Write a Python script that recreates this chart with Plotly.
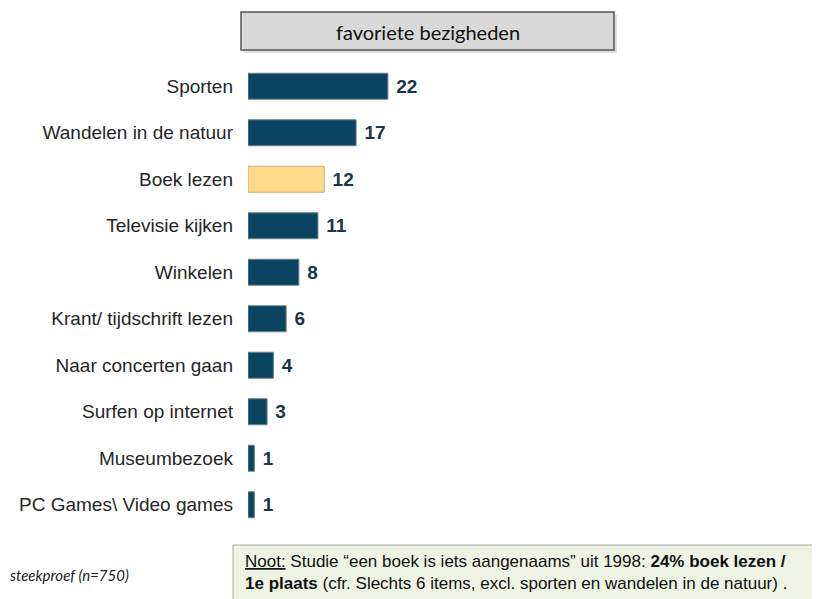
import plotly.graph_objects as go

categorieen = ["Sporten", "Wandelen in de natuur", "Boek lezen", "Televisie kijken",
               "Winkelen", "Krant/ tijdschrift lezen", "Naar concerten gaan",
               "Surfen op internet", "Museumbezoek", "PC Games\\ Video games"]
waarden = [22, 17, 12, 11, 8, 6, 4, 3, 1, 1]
titel = "favoriete bezigheden"
steekproef = "steekproef (n=750)"
noot_1 = "<u>Noot:</u> Studie “een boek is iets aangenaams” uit 1998: <b>24% boek lezen /</b>"
noot_2 = "<b>1e plaats</b> (cfr. Slechts 6 items, excl. sporten en wandelen in de natuur) ."

# pagina heeft 8px body-marge
O = 8
W, H = 820 - O, 599 - O
L, R, T, B = 240, 32, 55, 71
pw, ph = W - L - R, H - T - B

def px_x(x):
    return (x - O - L) / pw

def px_y(y):
    return (H - B - (y - O)) / ph

kleuren = ["#fdd98a" if c == "Boek lezen" else "#0b4461" for c in categorieen]
randen = ["#c9b37c" if c == "Boek lezen" else "#6f8794" for c in categorieen]

fig = go.Figure(go.Bar(
    x=waarden, y=categorieen, orientation="h",
    marker=dict(color=kleuren, line=dict(color=randen, width=1)),
    width=0.56,
    text=waarden, textposition="outside",
    textfont=dict(family="Liberation Sans, Arial", size=19, color="#17374c"),
    texttemplate="\u00a0<b>%{x}</b>", cliponaxis=False,
))

fig.update_layout(
    width=W, height=H, margin=dict(l=L, r=R, t=T, b=B),
    plot_bgcolor="white", paper_bgcolor="white", showlegend=False,
    xaxis=dict(range=[0, pw / 6.36], visible=False),
    yaxis=dict(autorange="reversed", showline=False, ticks="", showgrid=False,
               ticklabelstandoff=14,
               tickfont=dict(family="Liberation Sans, Arial", size=19, color="#262626")),
    font=dict(family="Liberation Sans, Arial"),
)

# titelkader met lichte schaduw
fig.add_shape(type="rect", xref="paper", yref="paper",
              x0=px_x(243), x1=px_x(617), y0=px_y(53), y1=px_y(15),
              fillcolor="#c8c8c8", line=dict(width=0), opacity=0.6)
fig.add_shape(type="rect", xref="paper", yref="paper",
              x0=px_x(241), x1=px_x(614), y0=px_y(50), y1=px_y(12),
              fillcolor="#d9d9d9", line=dict(color="#555555", width=1.5))
fig.add_annotation(xref="paper", yref="paper", x=px_x(428), y=px_y(32),
                   xanchor="center", yanchor="middle", text=titel, showarrow=False,
                   font=dict(family="Lato, Open Sans", size=20, color="#111111"))

# noot kader
fig.add_shape(type="rect", xref="paper", yref="paper",
              x0=px_x(233), x1=px_x(825), y0=px_y(605), y1=px_y(545),
              fillcolor="#eef3e3", line=dict(color="#aaaaaa", width=1))
noot_font = dict(family="Liberation Sans Narrow, Arial Narrow, Liberation Sans",
                 size=17, color="#111111")
fig.add_annotation(xref="paper", yref="paper", x=px_x(243), y=px_y(561),
                   xanchor="left", yanchor="middle", text=noot_1, showarrow=False,
                   font=noot_font)
fig.add_annotation(xref="paper", yref="paper", x=px_x(243), y=px_y(583),
                   xanchor="left", yanchor="middle", text=noot_2, showarrow=False,
                   font=noot_font)
fig.add_annotation(xref="paper", yref="paper", x=px_x(8), y=px_y(575),
                   xanchor="left", yanchor="middle", text="<i>" + steekproef + "</i>",
                   showarrow=False,
                   font=dict(family="Lato, Open Sans", size=15, color="#222222"))

fig.write_html("out.html")
